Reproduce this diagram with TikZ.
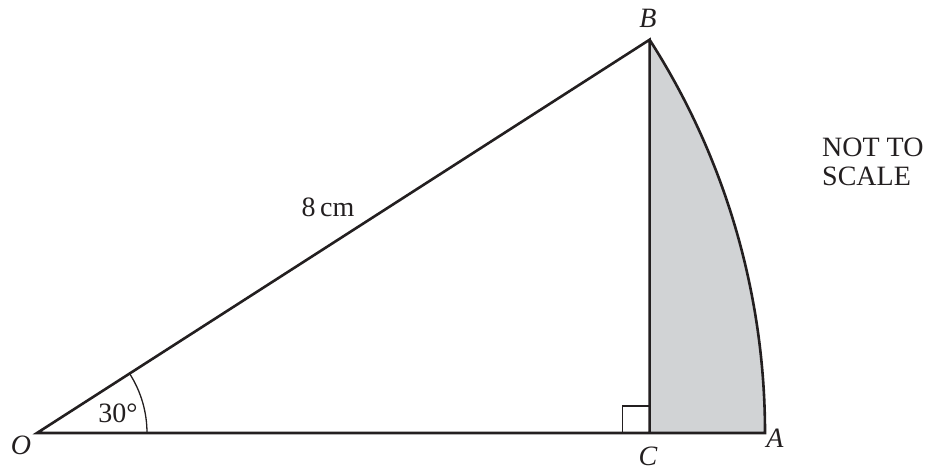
\documentclass[tikz,border=0pt]{standalone}
\usepackage{fontspec}
\setmainfont{Liberation Serif}
\usetikzlibrary{calc}
\definecolor{segfill}{RGB}{209,211,213}
\definecolor{ink}{RGB}{35,31,32}
\tikzset{
  edge/.style={draw=ink, line width=2.6pt, line join=miter},
  thin/.style={draw=ink, line width=1.3pt},
  lbl/.style={inner sep=0pt, text=ink, font=\fontsize{28}{32}\selectfont},
}
\begin{document}
\begin{tikzpicture}[x=1pt,y=1pt]
\useasboundingbox (0,0) rectangle (932,471);
\coordinate (O) at (37,38);
\coordinate (A) at ($(O)+(728pt,0)$);
\coordinate (B) at ($(O)+(32.7:728pt)$);
\coordinate (C) at (B |- O);
% shaded segment
\fill[fill=segfill] (C) -- (A) arc[start angle=0, end angle=32.7, radius=728pt] -- cycle;
% right angle mark
\draw[thin] ($(C)+(-27pt,0)$) -- ++(0,27pt) -- ++(27pt,0);
% angle arc
\draw[thin] ($(O)+(110pt,0)$) arc[start angle=0, end angle=32.7, radius=110pt];
% outline
\draw[edge] (C) -- (B) -- (O) -- (A) arc[start angle=0, end angle=32.7, radius=728pt];
% labels
\node[lbl, anchor=base] (lO) at (21,16) {\textit{O}};
\node[lbl, anchor=base] (lC) at (648,5) {\textit{C}};
\node[lbl, anchor=base] (lA) at (775,23) {\textit{A}};
\node[lbl, anchor=base] (lB) at (648,443) {\textit{B}};
\node[lbl, anchor=base] (l30) at (118,48) {30°};
\node[lbl, anchor=base] (l8) at (328,254) {8\,cm};
\node[lbl, anchor=base west] (n1) at (822,314) {NOT TO};
\node[lbl, anchor=base west] (n2) at (822,285) {SCALE};
\end{tikzpicture}
\end{document}
